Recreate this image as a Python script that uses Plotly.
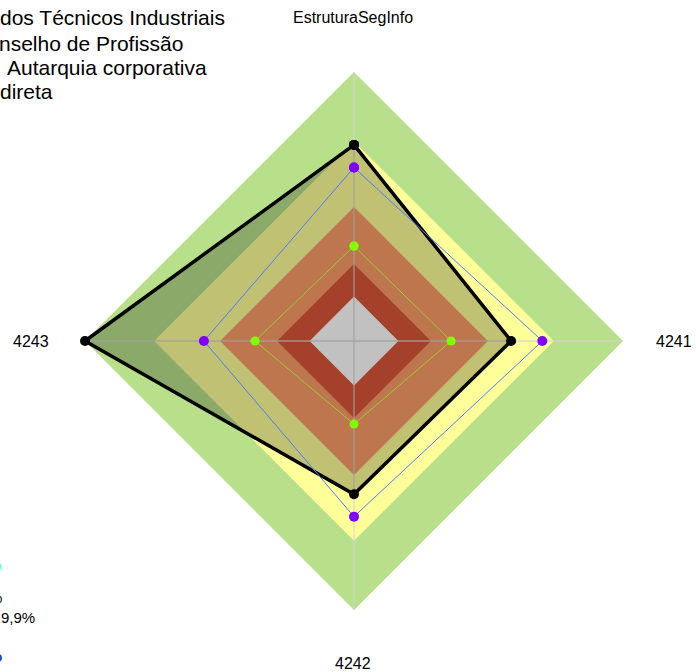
import plotly.graph_objects as go

W, H = 696, 672

categories = ["EstruturaSegInfo", "4241", "4242", "4243"]

# background bands (outer radius of each band, 0-100 scale)
band_levels = [100, 74.3, 49.8, 28.6, 16.5]
band_colors = ["#b8e08a", "#ffff99", "#fa9d68", "#da563a", "#ffffff"]

# series values
serie_org = [72.9, 58.4, 57.0, 100.0]      # black
serie_ref = [64.5, 70.0, 65.3, 55.8]       # blue / purple
serie_min = [35.3, 36.1, 30.9, 36.8]       # green

title_lines = ["dos Técnicos Industriais", "nselho de Profissão", "Autarquia corporativa", "direta"]
title_x = [-2, -3, 5, -2]
title_y = [17, 43, 68, 92]

def closed(vals):
    return list(vals) + [vals[0]]

theta_c = closed(categories)

fig = go.Figure()

for lvl, col in zip(band_levels, band_colors):
    fig.add_trace(go.Scatterpolar(
        r=closed([lvl] * 4), theta=theta_c, mode="lines", fill="toself",
        fillcolor=col, line=dict(width=0, color=col), hoverinfo="skip", showlegend=False))

# spokes
for c in categories:
    fig.add_trace(go.Scatterpolar(
        r=[0, 100], theta=[c, c], mode="lines",
        line=dict(color="rgba(210,210,210,0.85)", width=1.3), hoverinfo="skip", showlegend=False))

fig.add_trace(go.Scatterpolar(
    r=closed(serie_org), theta=theta_c, mode="lines+markers", fill="toself",
    fillcolor="rgba(0,0,0,0.245)", line=dict(color="black", width=3.5),
    marker=dict(color="black", size=10), showlegend=False))

fig.add_trace(go.Scatterpolar(
    r=closed(serie_ref), theta=theta_c, mode="lines+markers",
    line=dict(color="#4a7cff", width=1), marker=dict(color="#8000ff", size=10), showlegend=False))

fig.add_trace(go.Scatterpolar(
    r=closed(serie_min), theta=theta_c, mode="lines+markers",
    line=dict(color="#9acd32", width=1), marker=dict(color="#80ff00", size=9), showlegend=False))

cx, cy, R = 354, 341, 269
fig.update_layout(
    width=W, height=H,
    margin=dict(l=0, r=0, t=0, b=0),
    paper_bgcolor="white", plot_bgcolor="white",
    polar=dict(
        domain=dict(x=[(cx - R) / W, (cx + R) / W], y=[1 - (cy + R) / H, 1 - (cy - R) / H]),
        bgcolor="rgba(0,0,0,0)",
        radialaxis=dict(visible=False, range=[0, 100]),
        angularaxis=dict(type="category", direction="clockwise", rotation=90,
                         showgrid=False, showline=False, showticklabels=False, ticks=""),
    ),
    font=dict(family="Liberation Sans, Arial", color="black"),
)

ann = []
label_pos = [(353, 17), (674, 341), (353, 663), (31, 341)]
for lab, (x, y) in zip(categories, label_pos):
    ann.append(dict(text=lab, x=x / W, y=1 - y / H, xref="paper", yref="paper",
                    xanchor="center", yanchor="middle", showarrow=False, font=dict(size=16)))
for t, x, y in zip(title_lines, title_x, title_y):
    ann.append(dict(text=t, x=x / W, y=1 - y / H, xref="paper", yref="paper",
                    xanchor="left", yanchor="middle", showarrow=False, font=dict(size=21)))
ann.append(dict(text="9,9%", x=-1 / W, y=1 - 617 / H, xref="paper", yref="paper",
                xanchor="left", yanchor="middle", showarrow=False, font=dict(size=15)))
ann.append(dict(text="%", x=4 / W, y=1 - 597 / H, xref="paper", yref="paper",
                xanchor="right", yanchor="middle", showarrow=False, font=dict(size=15)))
fig.update_layout(annotations=ann)

shapes = []
for (yy, col) in [(567, "#7fffd4"), (658, "#1f4fbf")]:
    shapes.append(dict(type="circle", xref="paper", yref="paper",
                       x0=-6 / W, x1=2 / W, y0=1 - (yy + 4) / H, y1=1 - (yy - 4) / H,
                       fillcolor=col, line=dict(width=0)))
fig.update_layout(shapes=shapes)

fig.write_html("out.html", config={"displayModeBar": False},
               post_script="document.body.style.margin='0px';")
